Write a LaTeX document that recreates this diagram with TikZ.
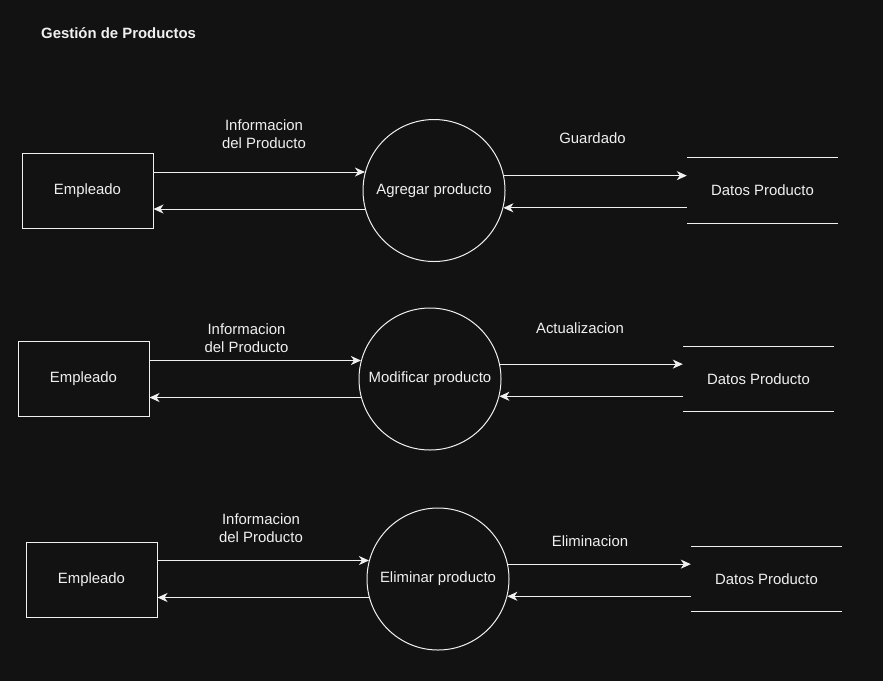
\documentclass[tikz,border=0pt]{standalone}
\usepackage{fontspec}
\setmainfont{Liberation Sans}
\usetikzlibrary{arrows.meta}
\definecolor{bg}{HTML}{121212}
\definecolor{fg}{HTML}{F0F0F0}
\tikzset{
  txt/.style={font=\fontsize{14.9}{18}\selectfont},
  entbox/.style={draw=fg, line width=1pt, minimum width=131pt, minimum height=75pt, inner sep=0pt, text=fg, txt},
  proc/.style={draw=fg, line width=1pt, circle, minimum size=142pt, inner sep=0pt, text=fg, txt},
  store/.style={minimum width=151pt, minimum height=65pt, inner sep=0pt, text=fg, txt},
  storeline/.style={draw=fg, line width=1pt},
  flow/.style={draw=fg, line width=1pt, -{Stealth[length=10pt,width=9pt,inset=3pt]}, fill=fg},
  lbl/.style={text=fg, align=center, inner sep=0pt, txt},
}
\begin{document}
\begin{tikzpicture}[x=1pt,y=-1pt]
\fill[bg] (0,0) rectangle (883,681);
\useasboundingbox (0,0) rectangle (883,681);
\node[anchor=west, text=fg, inner sep=0pt, font=\bfseries\fontsize{14.9}{17}\selectfont] (title) at (41,33) {Gestión de Productos};

% Row 1
\node[entbox] (e1) at (87.5,190.5) {Empleado};
\node[proc] (p1) at (434,190.5) {Agregar producto};
\node[store] (s1) at (762.5,190.5) {Datos Producto};
\draw[storeline] (s1.north west) -- (s1.north east);
\draw[storeline] (s1.south west) -- (s1.south east);
\draw[flow] (e1.east |- p1.165) -- (p1.165);
\draw[flow] (p1.195) -- (e1.east |- p1.195);
\draw[flow] (p1.12) -- (s1.west |- p1.12);
\draw[flow] (s1.west |- p1.-14) -- (p1.-14);
\node[lbl] (l1a) at (264,134) {Informacion\\del Producto};
\node[lbl] (l1b) at (592.5,138) {Guardado};

% Row 2
\node[entbox] (e2) at (83.5,379) {Empleado};
\node[proc] (p2) at (430,379) {Modificar producto};
\node[store] (s2) at (758.5,379) {Datos Producto};
\draw[storeline] (s2.north west) -- (s2.north east);
\draw[storeline] (s2.south west) -- (s2.south east);
\draw[flow] (e2.east |- p2.165) -- (p2.165);
\draw[flow] (p2.195) -- (e2.east |- p2.195);
\draw[flow] (p2.12) -- (s2.west |- p2.12);
\draw[flow] (s2.west |- p2.-14) -- (p2.-14);
\node[lbl] (l2a) at (246.5,338) {Informacion\\del Producto};
\node[lbl] (l2b) at (580,328) {Actualizacion};

% Row 3
\node[entbox] (e3) at (91.5,579.5) {Empleado};
\node[proc] (p3) at (438,579) {Eliminar producto};
\node[store] (s3) at (766.5,579) {Datos Producto};
\draw[storeline] (s3.north west) -- (s3.north east);
\draw[storeline] (s3.south west) -- (s3.south east);
\draw[flow] (e3.east |- p3.165) -- (p3.165);
\draw[flow] (p3.195) -- (e3.east |- p3.195);
\draw[flow] (p3.12) -- (s3.west |- p3.12);
\draw[flow] (s3.west |- p3.-14) -- (p3.-14);
\node[lbl] (l3a) at (261,528) {Informacion\\del Producto};
\node[lbl] (l3b) at (590,541) {Eliminacion};
\end{tikzpicture}
\end{document}
